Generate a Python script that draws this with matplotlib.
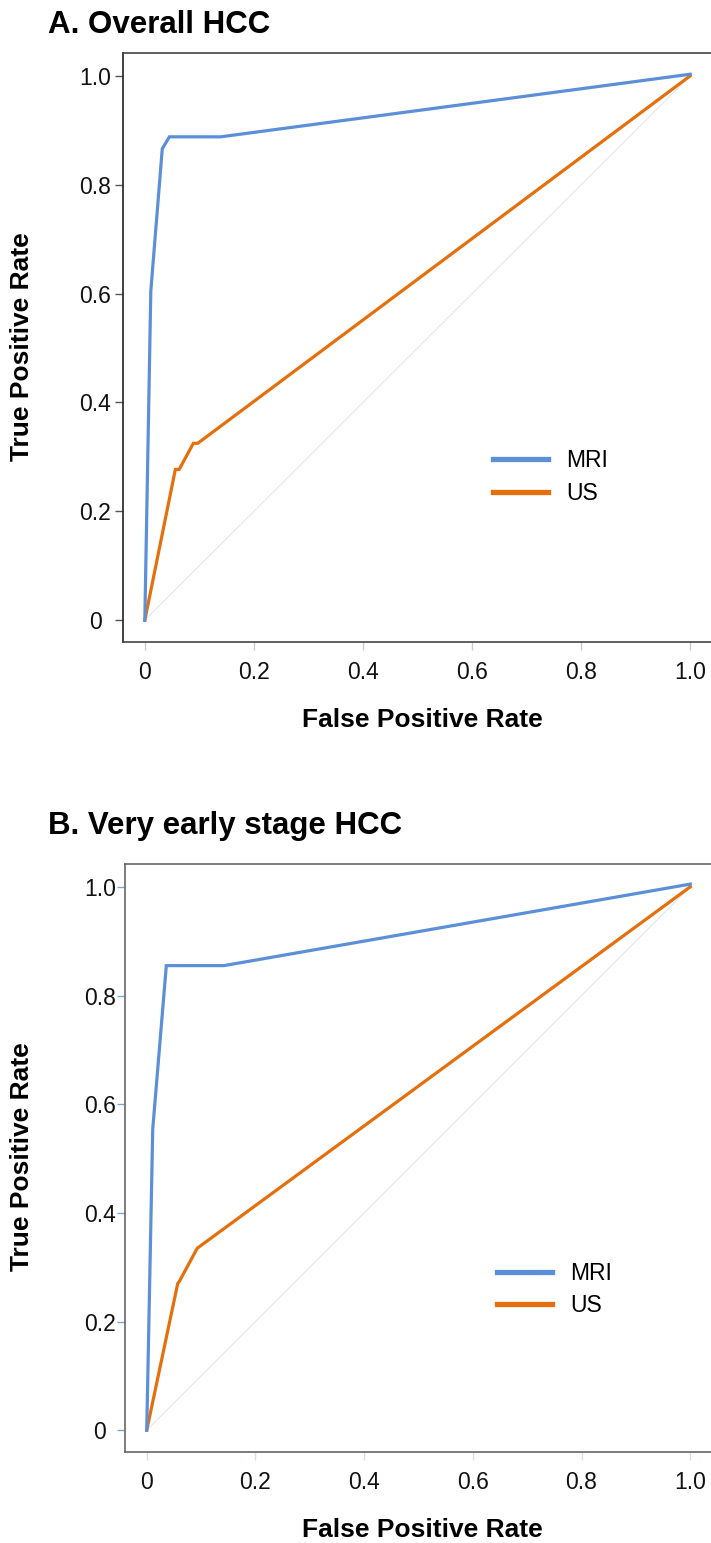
import matplotlib
matplotlib.use("Agg")
import matplotlib.pyplot as plt

plt.rcParams['font.family'] = ['Liberation Sans', 'DejaVu Sans']

# ---- data ----
tick_vals = [0, 0.2, 0.4, 0.6, 0.8, 1.0]
tick_labels = ['0', '0.2', '0.4', '0.6', '0.8', '1.0']

a_mri_fpr = [0.0, 0.011, 0.032, 0.045, 0.139, 1.0]
a_mri_tpr = [0.0, 0.605, 0.866, 0.888, 0.888, 1.003]
a_us_fpr = [0.0, 0.056, 0.063, 0.089, 0.097, 1.0]
a_us_tpr = [0.0, 0.277, 0.277, 0.325, 0.325, 1.0]

b_mri_fpr = [0.0, 0.011, 0.036, 0.142, 1.0]
b_mri_tpr = [0.0, 0.554, 0.855, 0.855, 1.005]
b_us_fpr = [0.0, 0.057, 0.060, 0.093, 1.0]
b_us_tpr = [0.0, 0.270, 0.274, 0.335, 1.0]

series_names = ['MRI', 'US']
titles = ['A. Overall HCC', 'B. Very early stage HCC']
xlabel = 'False Positive Rate'
ylabel = 'True Positive Rate'

# ---- style ----
C_MRI = '#5B8FD8'
C_US = '#E56F0C'
W, H = 711, 1543
fig = plt.figure(figsize=(W / 100, H / 100), dpi=100)


def px_axes(left, top, right, bottom):
    return fig.add_axes([left / W, 1 - bottom / H, (right - left) / W, (bottom - top) / H])


panels = [
    dict(box=(123, 53, 712, 642), mri=(a_mri_fpr, a_mri_tpr), us=(a_us_fpr, a_us_tpr),
         spine='#444444', leftspine='#222222', ytick='#555555', xtick='#cccccc',
         ypad=14, leg=(0.628, 0.280), title_y=33, xl_y=720, yl_y=347),
    dict(box=(125, 864, 712, 1452), mri=(b_mri_fpr, b_mri_tpr), us=(b_us_fpr, b_us_tpr),
         spine='#666666', leftspine='#666666', ytick='#7aa6e0', xtick='#d3dff0',
         ypad=12, leg=(0.634, 0.276), title_y=834, xl_y=1530, yl_y=1157),
]

for i, p in enumerate(panels):
    ax = px_axes(*p['box'])
    ax.plot([0, 1], [0, 1], color='#e6e6e6', lw=0.8, zorder=1)
    ax.plot(*p['mri'], color=C_MRI, lw=2.3, label=series_names[0], zorder=3,
            solid_joinstyle='miter')
    ax.plot(*p['us'], color=C_US, lw=2.3, label=series_names[1], zorder=2,
            solid_joinstyle='miter')
    ax.set_xlim(-0.04, 1.04)
    ax.set_ylim(-0.04, 1.042)
    ax.set_xticks(tick_vals)
    ax.set_xticklabels(tick_labels)
    ax.set_yticks(tick_vals)
    ax.set_yticklabels(tick_labels, ha='center')
    ax.tick_params(axis='x', direction='out', length=6, width=1, color=p['xtick'],
                   labelsize=16.5, pad=8, labelcolor='#111111')
    ax.tick_params(axis='y', direction='out', length=6, width=1, color=p['ytick'],
                   labelsize=16.5, pad=p['ypad'], labelcolor='#111111')
    for s in ['top', 'bottom']:
        ax.spines[s].set_color(p['spine'])
        ax.spines[s].set_linewidth(1.2)
    ax.spines['left'].set_color(p['leftspine'])
    ax.spines['left'].set_linewidth(1.2)
    ax.spines['right'].set_visible(False)

    leg = ax.legend(loc='center left', bbox_to_anchor=p['leg'], frameon=False,
                    fontsize=16.5, handlelength=2.4, handletextpad=0.8,
                    labelspacing=0.4, borderpad=0, borderaxespad=0)
    for h in leg.legend_handles:
        h.set_linewidth(3.8)

    fig.text(48 / W, 1 - p['title_y'] / H, titles[i], fontsize=22.5,
             fontweight='bold', ha='left', va='baseline')
    fig.text(422 / W, 1 - p['xl_y'] / H, xlabel, fontsize=19, fontweight='bold',
             ha='center', va='center')
    fig.text(22 / W, 1 - p['yl_y'] / H, ylabel, fontsize=19, fontweight='bold',
             ha='center', va='center', rotation=90)

fig.savefig('out.png', dpi=100)
